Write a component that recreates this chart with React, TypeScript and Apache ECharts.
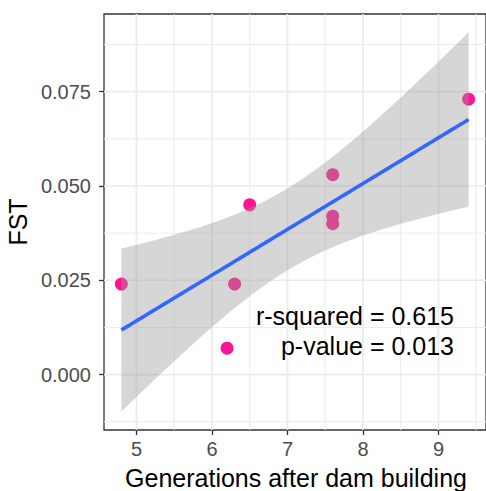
import React, { useEffect, useRef } from "react";
import * as echarts from "echarts";

// Data
const genX = [4.8, 6.3, 6.5, 7.6, 7.6, 7.6, 9.4, 6.2];
const fst = [0.024, 0.024, 0.045, 0.053, 0.042, 0.04, 0.073, 0.007];

const xTicks = [5, 6, 7, 8, 9];
const xMinor = [5.5, 6.5, 7.5, 8.5, 9.5];
const yTicks = [0, 0.025, 0.05, 0.075];
const yMinor = [-0.0125, 0.0125, 0.0375, 0.0625, 0.0875];
const yTickLabels = ["0.000", "0.025", "0.050", "0.075"];
const annotationLines = ["r-squared = 0.615", "p-value = 0.013"];
const xTitle = "Generations after dam building";
const yTitle = "FST";

const X_MIN = 4.57;
const X_MAX = 9.63;
const Y_MIN = -0.0147;
const Y_MAX = 0.0956;
const T_975_DF6 = 2.446912; // t quantile for 95% CI, n - 2 = 6

const FONT = '"Liberation Sans", Arial, Helvetica, sans-serif';

function fitLm(xs: number[], ys: number[]) {
  const n = xs.length;
  const mx = xs.reduce((a, b) => a + b, 0) / n;
  const my = ys.reduce((a, b) => a + b, 0) / n;
  let sxx = 0;
  let sxy = 0;
  for (let i = 0; i < n; i++) {
    sxx += (xs[i] - mx) * (xs[i] - mx);
    sxy += (xs[i] - mx) * (ys[i] - my);
  }
  const slope = sxy / sxx;
  const icpt = my - slope * mx;
  let sse = 0;
  for (let i = 0; i < n; i++) {
    const r = ys[i] - (icpt + slope * xs[i]);
    sse += r * r;
  }
  const s = Math.sqrt(sse / (n - 2));
  const lo = Math.min(...xs);
  const hi = Math.max(...xs);
  const pts: number[][] = [];
  const m = 80;
  for (let i = 0; i < m; i++) {
    const x = lo + ((hi - lo) * i) / (m - 1);
    const yh = icpt + slope * x;
    const se = s * Math.sqrt(1 / n + ((x - mx) * (x - mx)) / sxx);
    pts.push([x, yh, yh - T_975_DF6 * se, yh + T_975_DF6 * se]);
  }
  return pts;
}

export default function App() {
  const ref = useRef<HTMLDivElement>(null);

  useEffect(() => {
    if (!ref.current) return;
    const chart = echarts.init(ref.current, undefined, { renderer: "svg" });
    const fit = fitLm(genX, fst);

    const gridLineItems = [
      ...xTicks.map((v) => ({ value: [v, 0, 0, 1] })),
      ...xMinor.map((v) => ({ value: [v, 0, 0, 0] })),
      ...yTicks.map((v) => ({ value: [X_MIN, v, 1, 1] })),
      ...yMinor.map((v) => ({ value: [X_MIN, v, 1, 0] })),
    ];

    const option: any = {
      animation: false,
      grid: {
        left: 104,
        top: 14,
        width: 386,
        height: 416,
        show: true,
        borderColor: "#333333",
        borderWidth: 1.3,
        backgroundColor: "transparent",
        containLabel: false,
      },
      xAxis: {
        type: "value",
        min: X_MIN,
        max: X_MAX,
        axisLine: { show: false, onZero: false },
        splitLine: { show: false },
        axisTick: {
          show: true,
          customValues: xTicks,
          length: 5,
          lineStyle: { color: "#333333", width: 1.3 },
        },
        axisLabel: {
          customValues: xTicks,
          color: "#4D4D4D",
          fontSize: 20,
          fontFamily: FONT,
          margin: 9,
        },
      },
      yAxis: {
        type: "value",
        min: Y_MIN,
        max: Y_MAX,
        axisLine: { show: false, onZero: false },
        splitLine: { show: false },
        axisTick: {
          show: true,
          customValues: yTicks,
          length: 5,
          lineStyle: { color: "#333333", width: 1.3 },
        },
        axisLabel: {
          customValues: yTicks,
          color: "#4D4D4D",
          fontSize: 20,
          fontFamily: FONT,
          margin: 13,
          formatter: (v: number) => {
            const i = yTicks.findIndex((t) => Math.abs(t - v) < 1e-9);
            return i >= 0 ? yTickLabels[i] : "";
          },
        },
      },
      series: [
        {
          type: "custom",
          z: 1,
          silent: true,
          clip: true,
          data: gridLineItems,
          renderItem: (params: any, api: any) => {
            const cs = params.coordSys;
            const horiz = api.value(2) === 1;
            const major = api.value(3) === 1;
            const style = {
              stroke: "#EBEBEB",
              lineWidth: major ? 1.7 : 1.0,
            };
            if (horiz) {
              const y = api.coord([X_MIN, api.value(1)])[1];
              return {
                type: "line",
                shape: { x1: cs.x, y1: y, x2: cs.x + cs.width, y2: y },
                style,
              };
            }
            const x = api.coord([api.value(0), 0])[0];
            return {
              type: "line",
              shape: { x1: x, y1: cs.y, x2: x, y2: cs.y + cs.height },
              style,
            };
          },
        },
        {
          type: "scatter",
          z: 3,
          symbol: "circle",
          symbolSize: 13,
          itemStyle: { color: "#FF1493", opacity: 1 },
          data: genX.map((x, i) => [x, fst[i]]),
        },
        {
          type: "custom",
          z: 4,
          silent: true,
          data: [[fit[0][0], fit[0][1]]],
          renderItem: (_params: any, api: any) => {
            const upper = fit.map((p) => api.coord([p[0], p[3]]));
            const lower = fit
              .slice()
              .reverse()
              .map((p) => api.coord([p[0], p[2]]));
            return {
              type: "polygon",
              shape: { points: upper.concat(lower) },
              style: { fill: "rgba(153,153,153,0.4)" },
            };
          },
        },
        {
          type: "line",
          z: 5,
          showSymbol: false,
          symbol: "none",
          silent: true,
          lineStyle: { color: "#3366FF", width: 3.6 },
          data: fit.map((p) => [p[0], p[1]]),
        },
      ],
      graphic: [
        {
          type: "text",
          x: 18,
          y: 222,
          rotation: Math.PI / 2,
          z: 10,
          style: {
            text: yTitle,
            fill: "#000000",
            font: `25px ${FONT}`,
            align: "center",
            verticalAlign: "middle",
            textAlign: "center",
            textVerticalAlign: "middle",
          },
        },
        {
          type: "text",
          x: 296,
          y: 478,
          z: 10,
          style: {
            text: xTitle,
            fill: "#000000",
            font: `25px ${FONT}`,
            align: "center",
            verticalAlign: "middle",
            textAlign: "center",
            textVerticalAlign: "middle",
          },
        },
        ...annotationLines.map((t, i) => ({
          type: "text",
          x: 454,
          y: 316 + i * 30,
          z: 10,
          style: {
            text: t,
            fill: "#000000",
            font: `25px ${FONT}`,
            align: "right",
            verticalAlign: "middle",
            textAlign: "right",
            textVerticalAlign: "middle",
          },
        })),
      ],
    };

    chart.setOption(option);
    return () => chart.dispose();
  }, []);

  return (
    <div
      ref={ref}
      style={{ position: "absolute", left: 0, top: 0, width: 486, height: 491 }}
    />
  );
}
